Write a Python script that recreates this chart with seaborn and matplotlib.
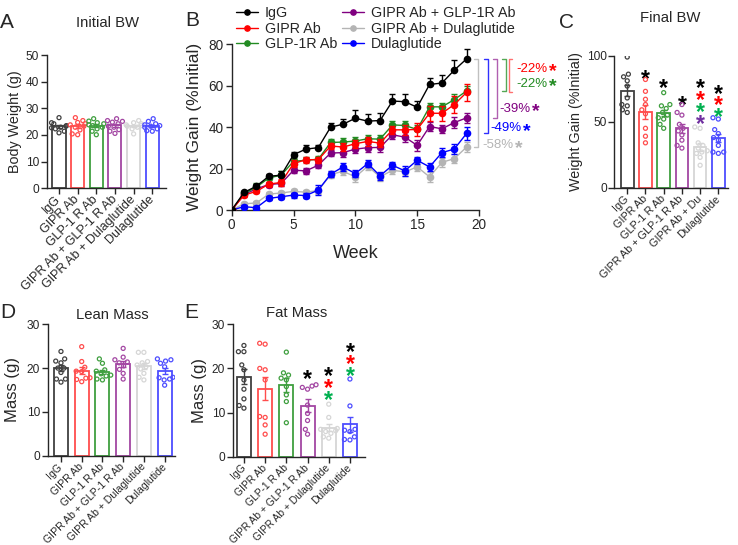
import warnings
import numpy as np
import pandas as pd
import matplotlib
matplotlib.use("Agg")
import matplotlib.pyplot as plt
from matplotlib.collections import PathCollection
from matplotlib.lines import Line2D
import seaborn as sns

warnings.filterwarnings("ignore")

# ── Données ──────────────────────────────────────────────────
groups = ["IgG", "GIPR Ab", "GLP-1 R Ab", "GIPR Ab + GLP-1 R Ab",
          "GIPR Ab + Dulaglutide", "Dulaglutide"]
groups_c = ["IgG", "GIPR Ab", "GLP-1 R Ab", "GIPR Ab + GLP-1 R Ab",
            "GIPR Ab + Du", "Dulaglutide"]
legend_labels = ["IgG", "GIPR Ab", "GLP-1R Ab", "GIPR Ab + GLP-1R Ab",
                 "GIPR Ab + Dulaglutide", "Dulaglutide"]

# B : prise de poids (% initial) par semaine, moyenne et SEM
weeks = list(range(20))
gain_igg = [0, 8.5, 11.5, 16.3, 16.8, 26.7, 29.4, 30.1, 40.0, 41.4, 44.3, 42.9, 43.2, 52.6, 52.3, 49.6, 60.6, 61.3, 67.5, 73.0]
gain_gipr = [0, 7.2, 9.0, 12.5, 13.3, 22.4, 24.3, 24.3, 30.9, 30.4, 32.0, 33.1, 32.3, 38.7, 38.7, 38.9, 46.7, 46.7, 50.9, 56.8]
gain_glp = [0, 8.0, 11.0, 15.5, 16.8, 23.5, 24.0, 24.5, 32.6, 32.8, 33.3, 34.4, 34.2, 41.1, 40.8, 38.9, 49.8, 49.8, 53.3, 57.5]
gain_combo = [0, 7.5, 10.2, 12.3, 12.8, 19.2, 18.9, 21.6, 27.5, 27.7, 29.4, 30.1, 30.2, 36.3, 35.2, 31.2, 40.3, 39.2, 42.2, 44.5]
gain_gdu = [0, 3.0, 3.4, 7.7, 8.2, 9.0, 8.6, 9.4, 17.1, 18.7, 16.0, 21.1, 16.0, 19.2, 18.4, 20.8, 16.0, 23.0, 24.8, 30.4]
gain_dula = [0, 1.6, 1.1, 5.6, 6.4, 7.2, 7.0, 9.6, 17.3, 20.8, 17.6, 22.4, 16.5, 21.6, 18.9, 24.0, 20.8, 27.7, 29.4, 37.0]

sem_igg = [0, 0.8, 1.0, 1.2, 1.8, 1.2, 1.8, 1.3, 2.2, 2.5, 4.0, 3.5, 3.8, 3.5, 3.5, 3.2, 3.2, 4.0, 4.8, 4.5]
sem_gipr = [0, 0.8, 1.0, 1.2, 1.5, 1.5, 1.5, 1.5, 1.5, 1.8, 2.0, 2.0, 2.0, 2.0, 2.5, 3.0, 3.5, 3.5, 4.0, 4.0]
sem_glp = [0, 0.8, 1.8, 1.0, 1.8, 1.5, 1.5, 1.5, 1.5, 2.0, 2.0, 1.8, 2.0, 2.0, 2.0, 2.2, 2.0, 2.0, 2.5, 2.5]
sem_combo = [0, 0.8, 1.0, 1.0, 1.2, 1.5, 1.5, 1.5, 1.5, 2.0, 1.8, 2.0, 2.0, 2.0, 2.5, 2.5, 2.0, 2.0, 2.5, 2.5]
sem_gdu = [0, 0.8, 0.8, 1.0, 1.0, 1.2, 1.2, 1.5, 1.5, 2.0, 2.5, 2.0, 2.0, 1.8, 2.0, 2.0, 2.5, 2.0, 2.0, 2.5]
sem_dula = [0, 0.8, 1.0, 1.0, 1.0, 1.2, 1.2, 2.5, 1.5, 1.8, 1.8, 1.8, 1.8, 1.8, 2.5, 1.8, 1.8, 2.0, 2.5, 3.0]

pct_labels = ["-22%", "-22%", "-39%", "-49%", "-58%"]
pct_groups = [1, 2, 3, 5, 4]

# A : poids initial (g)
bw_igg = [26.5, 24.6, 24.2, 23.5, 23.3, 22.9, 22.7, 22.3, 21.4, 20.8]
bw_gipr = [26.5, 25.4, 24.7, 24.2, 23.8, 23.3, 22.9, 21.9, 20.4, 20.1]
bw_glp = [26.1, 25.2, 24.6, 24.2, 23.8, 23.5, 22.9, 22.3, 21.4, 20.1]
bw_combo = [26.1, 25.4, 25.1, 24.8, 24.2, 23.3, 22.9, 22.0, 21.4, 20.6]
bw_gdu = [25.4, 24.6, 24.2, 23.8, 23.5, 23.3, 22.9, 22.3, 20.4]
bw_dula = [26.1, 25.1, 24.2, 23.8, 23.5, 23.3, 22.9, 22.3, 21.6, 21.4]

# C : prise de poids finale (% initial)
fg_igg = [99, 86, 84, 81, 77, 68, 63, 62, 59, 57]
fg_gipr = [82, 73, 67, 63, 59, 56, 45, 39, 34]
fg_glp = [72, 63, 62, 60, 57, 55, 53, 52, 48, 45]
fg_combo = [63, 57, 55, 48, 45, 43, 40, 36, 32, 30]
fg_gdu = [46, 45, 34, 32, 30, 28, 27, 26, 23, 17]
fg_dula = [53, 52, 44, 41, 38, 36, 32, 27, 27, 26]
stars_c = [[], ["k"], ["k"], ["k"], ["k", "r", "g", "p"], ["k", "r", "g"]]
stars_c_top = [None, 87, 80, 67, 80, 76]

# D : masse maigre (g)
lm_igg = [23.8, 22.1, 21.6, 21.2, 20.0, 20.0, 19.0, 17.5, 17.5, 16.8]
lm_gipr = [24.9, 21.5, 20.2, 19.3, 19.2, 17.8, 17.7, 17.4, 16.9]
lm_glp = [22.1, 21.1, 19.6, 19.3, 18.7, 18.4, 18.2, 17.5, 17.3]
lm_combo = [24.5, 22.5, 21.9, 21.4, 21.2, 20.5, 19.7, 18.8, 17.5]
lm_gdu = [23.6, 23.6, 21.5, 21.2, 20.7, 20.3, 19.8, 18.8, 17.9, 17.3]
lm_dula = [22.1, 21.9, 21.6, 21.1, 20.3, 17.9, 17.8, 17.5, 17.3, 16.1]

# E : masse grasse (g)
fm_igg = [25.2, 23.8, 23.8, 20.8, 19.7, 17.4, 15.3, 13.1, 11.6, 11.0]
fm_gipr = [25.7, 25.5, 20.0, 19.7, 17.4, 9.1, 8.9, 7.2, 5.1]
fm_glp = [23.7, 19.0, 18.5, 17.8, 17.4, 15.9, 14.0, 12.5, 7.7]
fm_combo = [16.3, 16.0, 15.7, 15.3, 11.7, 9.8, 8.2, 6.2, 5.1]
fm_gdu = [11.9, 8.9, 6.4, 6.2, 5.9, 5.7, 5.3, 4.5, 4.2]
fm_dula = [17.6, 11.5, 6.2, 6.0, 5.7, 4.5, 3.9, 3.8]
stars_e = [[], [], [], ["k"], ["k", "r", "g"], ["k", "r", "g"]]
stars_e_top = [None, None, None, 18.9, 19.7, 25.1]

# ── Style ────────────────────────────────────────────────────
line_colors = ["#000000", "#ff0000", "#228b22", "#800080", "#b4b4b4", "#0000ff"]
bar_colors = ["#404040", "#ff4d4d", "#3f9f3f", "#a347a3", "#d6d6d6", "#4d4dff"]
bracket_colors = ["#ff7070", "#55a855", "#b060b0", "#3030ff", "#c0c0c0"]
star_colors = {"k": "#000000", "r": "#ff0000", "g": "#00b050", "p": "#7030a0"}

sns.set_style("ticks")
plt.rcParams["font.family"] = ["Liberation Sans", "DejaVu Sans"]
plt.rcParams["axes.linewidth"] = 1.0

W, H = 738, 545
fig = plt.figure(figsize=(W / 100, H / 100), dpi=100)


def box(l, t, r, b):
    return [l / W, 1 - b / H, (r - l) / W, (b - t) / H]


def ftext(x, y, s, size, **kw):
    fig.text(x / W, 1 - y / H, s, fontsize=size, ha="center", va="center", **kw)


def add_stars(ax, cols, tops, step):
    for i, (cl, top) in enumerate(zip(cols, tops)):
        for k, c in enumerate(cl):
            ax.annotate("*", xy=(i, top - k * step), xytext=(0, -9.5),
                        textcoords="offset points", ha="center", va="baseline",
                        fontsize=16.5, fontweight="bold", color=star_colors[c],
                        annotation_clip=False)


def bar_panel(ax, series, ylim, yticks, xlim, labels, lab_size, ylabel, ylab_size,
              ylab_x, bar_w):
    df = pd.DataFrame({"group": np.repeat(groups, [len(s) for s in series]),
                       "value": np.concatenate(series)})
    sns.barplot(data=df, x="group", y="value", hue="group", order=groups,
                hue_order=groups, palette=bar_colors, fill=False, errorbar=None,
                width=bar_w, linewidth=1.3, saturation=1, legend=False, ax=ax)
    stats = df.groupby("group")["value"].agg(["mean", "sem"]).reindex(groups)
    for i, g in enumerate(groups):
        ax.errorbar(i, stats.loc[g, "mean"], yerr=stats.loc[g, "sem"],
                    color=bar_colors[i], capsize=2.5, elinewidth=1, capthick=1,
                    fmt="none", zorder=3)
    sns.swarmplot(data=df, x="group", y="value", hue="group", order=groups,
                  hue_order=groups, palette=bar_colors, size=2.9, legend=False,
                  ax=ax, zorder=4)
    for coll in ax.collections:
        if isinstance(coll, PathCollection):
            fc = coll.get_facecolor()
            coll.set_edgecolor(fc)
            coll.set_facecolor("none")
            coll.set_linewidth(0.9)
    ax.set_xlim(xlim)
    ax.set_ylim(ylim)
    ax.set_yticks(yticks)
    ax.set_xticks(range(6))
    ax.set_xticklabels(labels, rotation=45, ha="right", va="center",
                       rotation_mode="anchor", fontsize=lab_size)
    ax.set_xlabel("")
    ax.set_ylabel(ylabel, fontsize=ylab_size)
    ax.yaxis.set_label_coords(ylab_x, 0.5)
    ax.tick_params(axis="y", labelsize=8.6, length=4, width=1, pad=1.5)
    ax.tick_params(axis="x", length=4, width=1, pad=2.8)
    sns.despine(ax=ax)


ax_a = fig.add_axes(box(46.7, 55, 165.7, 188.3))
ax_b = fig.add_axes(box(231.7, 44.3, 479, 210))
ax_c = fig.add_axes(box(614.3, 55.7, 728, 187.7))
ax_d = fig.add_axes(box(47.7, 324.3, 175, 455.7))
ax_e = fig.add_axes(box(232.7, 324.3, 365, 456.7))

# ── A ────────────────────────────────────────────────────────
bar_panel(ax_a, [bw_igg, bw_gipr, bw_glp, bw_combo, bw_gdu, bw_dula],
          (0, 50), range(0, 51, 10), (-0.66, 5.72), groups, 9.0,
          "Body Weight (g)", 10.3, -0.208, 0.7)

# ── C ────────────────────────────────────────────────────────
bar_panel(ax_c, [fg_igg, fg_gipr, fg_glp, fg_combo, fg_gdu, fg_dula],
          (0, 100), [0, 50, 100], (-0.71, 5.53), groups_c, 7.8,
          "Weight Gain (%Initial)", 10.3, -0.275, 0.7)
add_stars(ax_c, stars_c, stars_c_top, 9)

# ── D ────────────────────────────────────────────────────────
bar_panel(ax_d, [lm_igg, lm_gipr, lm_glp, lm_combo, lm_gdu, lm_dula],
          (0, 30), [0, 10, 20, 30], (-0.64, 5.5), groups, 7.6,
          "Mass (g)", 12, -0.218, 0.68)

# ── E ────────────────────────────────────────────────────────
bar_panel(ax_e, [fm_igg, fm_gipr, fm_glp, fm_combo, fm_gdu, fm_dula],
          (0, 30), [0, 10, 20, 30], (-0.53, 5.71), groups, 7.4,
          "Mass (g)", 12, -0.194, 0.66)
add_stars(ax_e, stars_e, stars_e_top, 2.7)

# ── B ────────────────────────────────────────────────────────
gains = [gain_igg, gain_gipr, gain_glp, gain_combo, gain_gdu, gain_dula]
sems = [sem_igg, sem_gipr, sem_glp, sem_combo, sem_gdu, sem_dula]
up_only = [True, False, True, False, False, False]
wk = pd.DataFrame({"Week": weeks * 6, "gain": np.concatenate(gains),
                   "group": np.repeat(legend_labels, len(weeks))})

for z, i in enumerate([4, 5, 3, 2, 1, 0]):
    sub = wk[wk["group"] == legend_labels[i]]
    e = np.array(sems[i])
    low = np.zeros_like(e) if up_only[i] else e
    ax_b.errorbar(sub["Week"], sub["gain"], yerr=[low, e], fmt="none",
                  color=line_colors[i], elinewidth=1, capsize=2.5, capthick=1,
                  zorder=2 + 2 * z)
    sns.lineplot(data=sub, x="Week", y="gain", color=line_colors[i], marker="o",
                 markersize=5.5, markeredgewidth=0, linewidth=1, legend=False,
                 ax=ax_b, zorder=3 + 2 * z)

ax_b.set_xlim(0, 20)
ax_b.set_ylim(0, 80)
ax_b.set_xticks([0, 5, 10, 15, 20])
ax_b.set_yticks([0, 20, 40, 60, 80])
ax_b.tick_params(labelsize=9.8, length=4, width=1, pad=2)
ax_b.set_xlabel("Week", fontsize=13)
ax_b.set_ylabel("Weight Gain (%Initial)", fontsize=12.5)
ax_b.xaxis.set_label_coords(0.5, -0.211)
ax_b.yaxis.set_label_coords(-0.12, 0.5)
sns.despine(ax=ax_b)

handles = [Line2D([], [], color=c, marker="o", markersize=3.8, lw=1)
           for c in line_colors]
ax_b.legend(handles, legend_labels, ncol=2, loc="upper left",
            bbox_to_anchor=(236 / W, 1 - 6 / H), bbox_transform=fig.transFigure,
            frameon=False, fontsize=10.3, handlelength=1.55, handletextpad=0.45,
            columnspacing=0.35, labelspacing=0.12, borderpad=0, borderaxespad=0)

# crochets de comparaison vs IgG
br_x = [22.39, 22.15, 21.42, 20.69, 19.89]
br_dir = [1, -1, -1, -1, -1]
txt_x = [23.0, 23.0, 21.66, 20.94, 20.29]
txt_dy = [11.4, 3.4, 4.5, 2.4, 0.9]
top = gain_igg[-1]
for k, g in enumerate(pct_groups):
    bottom = gains[g][-1]
    xa = br_x[k] + 0.27 * br_dir[k]
    ax_b.plot([xa, br_x[k], br_x[k], xa], [top, top, bottom, bottom],
              color=bracket_colors[k], lw=1, clip_on=False)
    t = ax_b.text(txt_x[k], bottom + txt_dy[k], pct_labels[k], color=line_colors[g],
                  fontsize=9.5, ha="left", va="center", clip_on=False)
    ax_b.annotate("*", xy=(1, 0.5), xycoords=t, xytext=(1, -5.5),
                  textcoords="offset points", ha="left", va="baseline",
                  fontsize=14, fontweight="bold", color=line_colors[g])

# ── Titres et lettres ────────────────────────────────────────
ftext(7, 22, "A", 15)
ftext(192, 20, "B", 15)
ftext(567, 22, "C", 15)
ftext(8, 312, "D", 15)
ftext(191, 312, "E", 15)
ftext(107, 23, "Initial BW", 10.7)
ftext(670, 18, "Final BW", 10.7)
ftext(112, 315, "Lean Mass", 10.7)
ftext(297, 313, "Fat Mass", 10.7)

fig.savefig("out.png", dpi=100, facecolor="white")
